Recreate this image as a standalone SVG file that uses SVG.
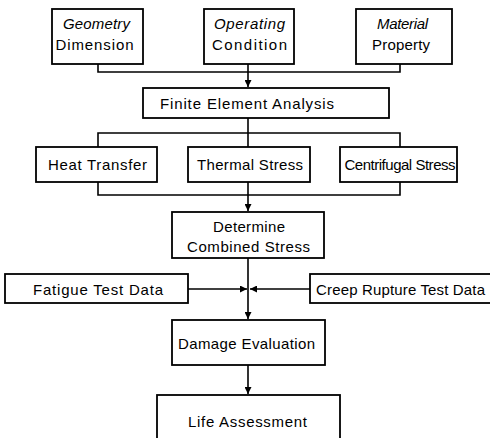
<svg xmlns="http://www.w3.org/2000/svg" width="490" height="438" viewBox="0 0 490 438">
<style>
  .box { fill: #fff; stroke: #000; stroke-width: 1.8; }
  .t { font-family: "Liberation Sans", Arial, sans-serif; font-size: 15px; fill: #000; text-anchor: middle; }
  .i { font-style: italic; }
  .c { fill: none; stroke: #000; stroke-width: 1.6; }
</style>
<defs>
  <marker id="arr" viewBox="0 0 8 8" refX="8" refY="4" markerWidth="7" markerHeight="7" markerUnits="userSpaceOnUse" orient="auto">
    <path d="M0,0 L8,4 L0,8 Z" fill="#000"/>
  </marker>
</defs>
<rect width="490" height="438" fill="#fff"/>
<g id="connectors">
  <path class="c" d="M98 64 V72 H400 V64"/>
  <path class="c" d="M248 64 V87" marker-end="url(#arr)"/>
  <path class="c" d="M248 118 V147"/>
  <path class="c" d="M98 147 V133 H400 V147"/>
  <path class="c" d="M98 182 V195 H400 V182"/>
  <path class="c" d="M248 182 V211" marker-end="url(#arr)"/>
  <path class="c" d="M248 258 V319" marker-end="url(#arr)"/>
  <path class="c" d="M188 289 H247" marker-end="url(#arr)"/>
  <path class="c" d="M310 289 H250" marker-end="url(#arr)"/>
  <path class="c" d="M248 365 V394" marker-end="url(#arr)"/>
</g>
<g id="geometry">
  <rect class="box" x="52" y="9" width="91" height="55"/>
  <text class="t i" x="96.5" y="29" textLength="67">Geometry</text>
  <text class="t" x="94.5" y="50" textLength="78">Dimension</text>
</g>
<g id="operating">
  <rect class="box" x="204" y="9" width="90" height="55"/>
  <text class="t i" x="249.5" y="29" textLength="71">Operating</text>
  <text class="t" x="249.5" y="50" textLength="75">Condition</text>
</g>
<g id="material">
  <rect class="box" x="356" y="9" width="96" height="55"/>
  <text class="t i" x="402.5" y="29" textLength="51">Material</text>
  <text class="t" x="401" y="50" textLength="58">Property</text>
</g>
<g id="fea">
  <rect class="box" x="143" y="88" width="246" height="30"/>
  <text class="t" x="247" y="108.5" textLength="174">Finite Element Analysis</text>
</g>
<g id="heat">
  <rect class="box" x="36" y="147" width="121" height="35"/>
  <text class="t" x="97.5" y="170" textLength="99">Heat Transfer</text>
</g>
<g id="thermal">
  <rect class="box" x="188" y="147" width="122" height="35"/>
  <text class="t" x="250" y="170" textLength="106">Thermal Stress</text>
</g>
<g id="centrifugal">
  <rect class="box" x="340" y="147" width="117" height="35"/>
  <text class="t" x="400" y="170" textLength="111">Centrifugal Stress</text>
</g>
<g id="combined">
  <rect class="box" x="172" y="212" width="152" height="46"/>
  <text class="t" x="249" y="232" textLength="72">Determine</text>
  <text class="t" x="248.5" y="252" textLength="123">Combined Stress</text>
</g>
<g id="fatigue">
  <rect class="box" x="5" y="274" width="183" height="29"/>
  <text class="t" x="98" y="295" textLength="130">Fatigue Test Data</text>
</g>
<g id="creep">
  <rect class="box" x="310" y="274" width="185" height="29"/>
  <text class="t" x="400.5" y="295" textLength="169">Creep Rupture Test Data</text>
</g>
<g id="damage">
  <rect class="box" x="172" y="320" width="153" height="45"/>
  <text class="t" x="246.5" y="349" textLength="137">Damage Evaluation</text>
</g>
<g id="life">
  <rect class="box" x="157" y="395" width="183" height="55"/>
  <text class="t" x="247.5" y="427" textLength="119">Life Assessment</text>
</g>
</svg>
